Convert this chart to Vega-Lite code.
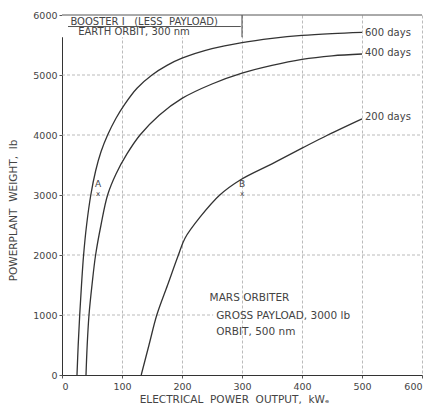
{
  "$schema": "https://vega.github.io/schema/vega-lite/v6.json",
  "width": 360,
  "height": 360,
  "autosize": "none",
  "padding": {"left": 62, "top": 15, "right": 3, "bottom": 36},
  "background": "white",
  "config": {
    "view": {"stroke": null},
    "font": "DejaVu Sans",
    "axis": {"labelFont": "DejaVu Sans", "titleFont": "DejaVu Sans", "labelColor": "#444", "titleColor": "#444", "labelFontSize": 9.5, "titleFontSize": 10.5, "titleFontWeight": "normal", "domainColor": "#333", "tickColor": "#555", "tickSize": 3, "gridColor": "#aaa", "gridDash": [3, 2], "gridWidth": 0.8}
  },
  "datasets": {
    "curves": [
      {"series": "600 days", "power": 25, "weight": 0},
      {"series": "600 days", "power": 27, "weight": 500},
      {"series": "600 days", "power": 29.5, "weight": 1000},
      {"series": "600 days", "power": 32.5, "weight": 1500},
      {"series": "600 days", "power": 36, "weight": 2000},
      {"series": "600 days", "power": 41, "weight": 2500},
      {"series": "600 days", "power": 48, "weight": 3000},
      {"series": "600 days", "power": 56, "weight": 3400},
      {"series": "600 days", "power": 65, "weight": 3720},
      {"series": "600 days", "power": 76, "weight": 4000},
      {"series": "600 days", "power": 90, "weight": 4280},
      {"series": "600 days", "power": 105, "weight": 4520},
      {"series": "600 days", "power": 125, "weight": 4780},
      {"series": "600 days", "power": 150, "weight": 5000},
      {"series": "600 days", "power": 175, "weight": 5160},
      {"series": "600 days", "power": 200, "weight": 5280},
      {"series": "600 days", "power": 250, "weight": 5440},
      {"series": "600 days", "power": 300, "weight": 5540},
      {"series": "600 days", "power": 350, "weight": 5610},
      {"series": "600 days", "power": 400, "weight": 5660},
      {"series": "600 days", "power": 450, "weight": 5690},
      {"series": "600 days", "power": 500, "weight": 5710},
      {"series": "400 days", "power": 40, "weight": 0},
      {"series": "400 days", "power": 42, "weight": 500},
      {"series": "400 days", "power": 45, "weight": 1000},
      {"series": "400 days", "power": 50, "weight": 1500},
      {"series": "400 days", "power": 56, "weight": 2000},
      {"series": "400 days", "power": 65, "weight": 2500},
      {"series": "400 days", "power": 76, "weight": 3000},
      {"series": "400 days", "power": 90, "weight": 3350},
      {"series": "400 days", "power": 108, "weight": 3680},
      {"series": "400 days", "power": 130, "weight": 4000},
      {"series": "400 days", "power": 162, "weight": 4330},
      {"series": "400 days", "power": 200, "weight": 4610},
      {"series": "400 days", "power": 250, "weight": 4850},
      {"series": "400 days", "power": 300, "weight": 5030},
      {"series": "400 days", "power": 350, "weight": 5160},
      {"series": "400 days", "power": 400, "weight": 5260},
      {"series": "400 days", "power": 450, "weight": 5320},
      {"series": "400 days", "power": 500, "weight": 5350},
      {"series": "200 days", "power": 132, "weight": 0},
      {"series": "200 days", "power": 145, "weight": 500},
      {"series": "200 days", "power": 158, "weight": 1000},
      {"series": "200 days", "power": 176, "weight": 1500},
      {"series": "200 days", "power": 194, "weight": 2000},
      {"series": "200 days", "power": 205, "weight": 2280},
      {"series": "200 days", "power": 230, "weight": 2630},
      {"series": "200 days", "power": 263, "weight": 3000},
      {"series": "200 days", "power": 297, "weight": 3250},
      {"series": "200 days", "power": 350, "weight": 3520},
      {"series": "200 days", "power": 400, "weight": 3780},
      {"series": "200 days", "power": 443, "weight": 4000},
      {"series": "200 days", "power": 500, "weight": 4270}
    ],
    "labels": [
      {"label": "600 days", "power": 505, "weight": 5700},
      {"label": "400 days", "power": 505, "weight": 5370},
      {"label": "200 days", "power": 505, "weight": 4300}
    ],
    "hgrid": [
      {"weight": 1000, "from": 0, "to": 252},
      {"weight": 2000, "from": 0, "to": 600},
      {"weight": 3000, "from": 0, "to": 600},
      {"weight": 4000, "from": 0, "to": 600},
      {"weight": 5000, "from": 0, "to": 600}
    ],
    "notes": [
      {"text": "MARS ORBITER", "power": 246, "weight": 1280},
      {"text": "GROSS PAYLOAD, 3000 lb", "power": 257, "weight": 990},
      {"text": "ORBIT, 500 nm", "power": 257, "weight": 720}
    ],
    "points": [
      {"name": "A", "power": 60, "weight": 3020},
      {"name": "B", "power": 300, "weight": 3020}
    ]
  },
  "layer": [
    {
      "data": {"name": "hgrid"},
      "mark": {"type": "rule", "color": "#aaa", "strokeDash": [3, 2], "strokeWidth": 0.8},
      "encoding": {
        "y": {"field": "weight", "type": "quantitative", "scale": {"domain": [0, 6000]}, "axis": {"values": [0, 1000, 2000, 3000, 4000, 5000, 6000], "format": "d", "title": "POWERPLANT\u00a0\u00a0WEIGHT,\u00a0\u00a0lb", "titlePadding": 14, "titleY": 195, "labelPadding": 2, "grid": false}},
        "x": {"field": "from", "type": "quantitative", "scale": {"domain": [0, 600]}, "axis": {"values": [0, 100, 200, 300, 400, 500, 600], "title": "ELECTRICAL\u00a0\u00a0POWER\u00a0\u00a0OUTPUT,\u00a0\u00a0kWₑ", "titlePadding": 4, "titleX": 172, "labelPadding": 3, "grid": true}},
        "x2": {"field": "to"}
      }
    },
    {
      "data": {"values": [{"x1": 0, "x2": 300, "y1": 5630, "y2": 6000}]},
      "mark": {"type": "rect", "fill": "white"},
      "encoding": {
        "x": {"field": "x1", "type": "quantitative"},
        "x2": {"field": "x2"},
        "y": {"field": "y1", "type": "quantitative"},
        "y2": {"field": "y2"}
      }
    },
    {
      "data": {"values": [{"x": 300, "y1": 5630, "y2": 6000}]},
      "mark": {"type": "rule", "color": "#444", "strokeWidth": 1},
      "encoding": {
        "x": {"field": "x", "type": "quantitative"},
        "y": {"field": "y1", "type": "quantitative"},
        "y2": {"field": "y2"}
      }
    },
    {
      "data": {"values": [{"x1": 0, "x2": 600, "y": 6000}, {"x1": 10, "x2": 298, "y": 5808}]},
      "mark": {"type": "rule", "color": "#555", "strokeWidth": 1},
      "encoding": {
        "x": {"field": "x1", "type": "quantitative"},
        "x2": {"field": "x2"},
        "y": {"field": "y", "type": "quantitative"}
      }
    },
    {
      "data": {"values": [{"text": "BOOSTER\u00a0I\u00a0\u00a0\u00a0(LESS\u00a0\u00a0PAYLOAD)", "x": 14, "y": 5835}, {"text": "EARTH ORBIT, 300 nm", "x": 27, "y": 5670}]},
      "mark": {"type": "text", "fontSize": 10, "color": "#444", "align": "left", "baseline": "alphabetic"},
      "encoding": {
        "x": {"field": "x", "type": "quantitative"},
        "y": {"field": "y", "type": "quantitative"},
        "text": {"field": "text"}
      }
    },
    {
      "data": {"name": "curves"},
      "mark": {"type": "line", "color": "#333", "strokeWidth": 1.3, "interpolate": "catmull-rom"},
      "encoding": {
        "x": {"field": "power", "type": "quantitative"},
        "y": {"field": "weight", "type": "quantitative"},
        "detail": {"field": "series"},
        "order": {"field": "weight", "type": "quantitative"}
      }
    },
    {
      "data": {"name": "labels"},
      "mark": {"type": "text", "fontSize": 10, "color": "#444", "align": "left", "baseline": "middle"},
      "encoding": {
        "x": {"field": "power", "type": "quantitative"},
        "y": {"field": "weight", "type": "quantitative"},
        "text": {"field": "label"}
      }
    },
    {
      "data": {"name": "notes"},
      "mark": {"type": "text", "fontSize": 10.5, "color": "#444", "align": "left", "baseline": "middle"},
      "encoding": {
        "x": {"field": "power", "type": "quantitative"},
        "y": {"field": "weight", "type": "quantitative"},
        "text": {"field": "text"}
      }
    },
    {
      "data": {"name": "points"},
      "mark": {"type": "text", "fontSize": 7, "color": "#444", "align": "center", "baseline": "middle", "text": "x"},
      "encoding": {
        "x": {"field": "power", "type": "quantitative"},
        "y": {"field": "weight", "type": "quantitative"}
      }
    },
    {
      "data": {"name": "points"},
      "mark": {"type": "text", "fontSize": 9, "color": "#444", "align": "center", "baseline": "middle", "dy": -10},
      "encoding": {
        "x": {"field": "power", "type": "quantitative"},
        "y": {"field": "weight", "type": "quantitative"},
        "text": {"field": "name"}
      }
    }
  ]
}
